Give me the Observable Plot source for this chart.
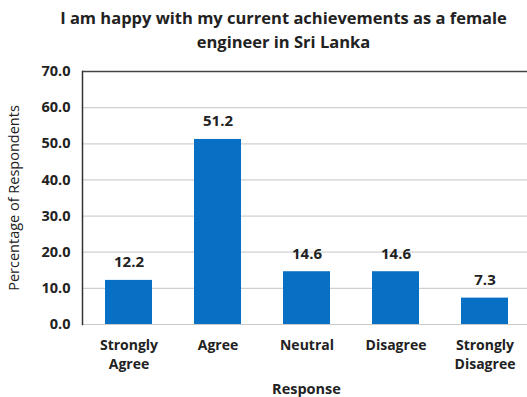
<!DOCTYPE html>
<html>
<head>
<meta charset="utf-8">
<script src="https://cdn.jsdelivr.net/npm/d3@7"></script>
<script src="https://cdn.jsdelivr.net/npm/@observablehq/plot@0.6"></script>
<style>
  html, body { margin: 0; padding: 0; background: #fff; }
  #wrap { width: 527px; height: 397px; position: relative; overflow: hidden; font-family: "Open Sans", sans-serif; }
  #title { position: absolute; left: 20px; top: 6px; width: 527px; text-align: center; font-weight: bold; font-size: 16.5px; line-height: 24px; color: #222; }
  #chart { position: absolute; left: 0; top: 60px; }
</style>
</head>
<body>
<div id="wrap">
  <div id="title">I am happy with my current achievements as a female<br>engineer in Sri Lanka</div>
  <div id="chart"></div>
</div>
<script>
const categories = ["Strongly\nAgree", "Agree", "Neutral", "Disagree", "Strongly\nDisagree"];
const values = [12.2, 51.2, 14.6, 14.6, 7.3];
const yTicks = [0, 10, 20, 30, 40, 50, 60, 70];

const data = categories.map((c, i) => ({category: c, value: values[i]}));

const chart = Plot.plot({
  width: 527,
  height: 337,
  marginTop: 11,
  marginBottom: 73,
  marginLeft: 82,
  marginRight: -3,
  style: {fontFamily: "Open Sans, sans-serif", fontSize: "14px", color: "#222", overflow: "visible"},
  x: {domain: categories, paddingInner: 0.475, paddingOuter: 0.235, label: null},
  y: {domain: [0, 70], ticks: yTicks, label: null},
  marks: [
    Plot.gridY(yTicks.filter(t => t > 0 && t < 70), {stroke: "#d0d0d0", strokeOpacity: 1, strokeWidth: 1.2}),
    Plot.ruleY([70], {stroke: "#444", strokeWidth: 1.5}),
    Plot.ruleY([0], {stroke: "#c8c8c8", strokeWidth: 1.2}),
    Plot.barY(data, {x: "category", y: "value", fill: "#0870c4"}),
    Plot.text(data, {x: "category", y: "value", text: d => d.value.toFixed(1), dy: -18, fontWeight: "bold", fontSize: 15, fill: "#222"}),
    Plot.axisY(yTicks, {tickSize: 0, tickPadding: 12, tickFormat: d => d.toFixed(1), fontWeight: "bold", fontSize: 14.5, label: null}),
    Plot.axisY({ticks: [], tickSize: 0, label: "Percentage of Respondents", labelAnchor: "center", labelArrow: "none", labelOffset: 74, fontSize: 14.5, fontWeight: "normal"}),
    Plot.axisX({tickSize: 0, tickPadding: 12, fontWeight: "bold", fontSize: 14, lineHeight: 1.35, label: null}),
    Plot.axisX({ticks: [], tickSize: 0, label: "Response", labelAnchor: "center", labelArrow: "none", labelOffset: 69, fontWeight: "bold", fontSize: 14.5}),
    Plot.frame({anchor: "left", stroke: "#333", strokeWidth: 1.5})
  ]
});
document.getElementById("chart").appendChild(chart);
</script>
</body>
</html>
